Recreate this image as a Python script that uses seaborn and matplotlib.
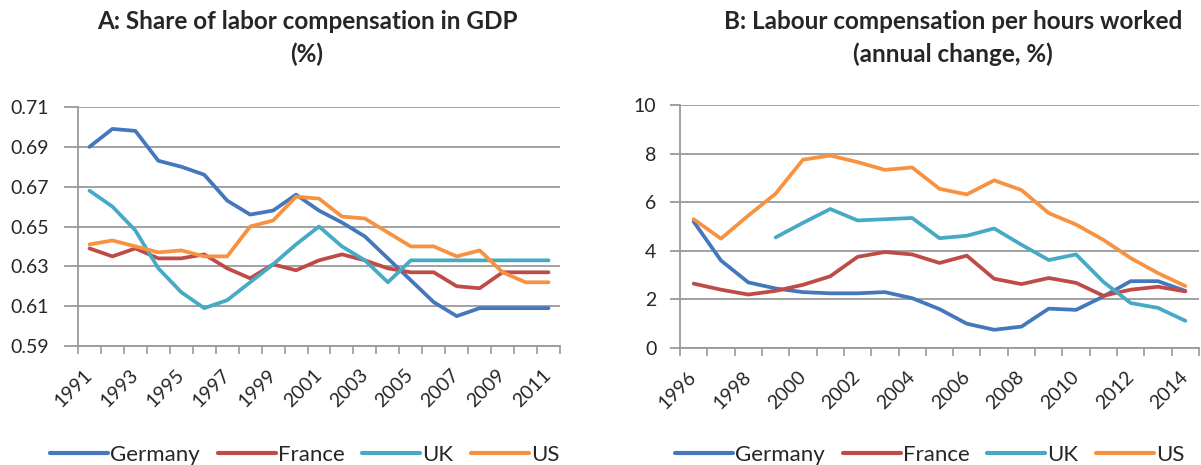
import numpy as np
import pandas as pd
import matplotlib
matplotlib.use("Agg")
import matplotlib.pyplot as plt
import seaborn as sns

# ---- data -------------------------------------------------------------
countries = ["Germany", "France", "UK", "US"]
colors = ["#4477BB", "#BE4B48", "#46AAC5", "#F69240"]

years_a = list(range(1991, 2012))
share_germany = [0.690, 0.699, 0.698, 0.683, 0.680, 0.676, 0.663, 0.656, 0.658, 0.666,
                 0.658, 0.652, 0.645, 0.634, 0.623, 0.612, 0.605, 0.609, 0.609, 0.609, 0.609]
share_france = [0.639, 0.635, 0.639, 0.634, 0.634, 0.636, 0.629, 0.624, 0.631, 0.628,
                0.633, 0.636, 0.633, 0.629, 0.627, 0.627, 0.620, 0.619, 0.627, 0.627, 0.627]
share_uk = [0.668, 0.660, 0.648, 0.629, 0.617, 0.609, 0.613, 0.622, 0.631, 0.641,
            0.650, 0.640, 0.633, 0.622, 0.633, 0.633, 0.633, 0.633, 0.633, 0.633, 0.633]
share_us = [0.641, 0.643, 0.640, 0.637, 0.638, 0.635, 0.635, 0.650, 0.653, 0.665,
            0.664, 0.655, 0.654, 0.647, 0.640, 0.640, 0.635, 0.638, 0.627, 0.622, 0.622]

years_b = list(range(1996, 2015))
comp_germany = [5.2, 3.6, 2.7, 2.45, 2.3, 2.25, 2.25, 2.3, 2.05, 1.6,
                1.0, 0.75, 0.88, 1.62, 1.57, 2.12, 2.75, 2.75, 2.35]
comp_france = [2.65, 2.4, 2.2, 2.35, 2.6, 2.95, 3.75, 3.95, 3.85, 3.5,
               3.8, 2.85, 2.63, 2.88, 2.68, 2.15, 2.4, 2.52, 2.33]
comp_uk = [np.nan, np.nan, np.nan, 4.55, 5.15, 5.72, 5.25, 5.3, 5.35, 4.52,
           4.62, 4.92, 4.25, 3.62, 3.85, 2.72, 1.85, 1.65, 1.12]
comp_us = [5.3, 4.5, 5.45, 6.35, 7.75, 7.92, 7.65, 7.33, 7.43, 6.55,
           6.32, 6.9, 6.5, 5.55, 5.08, 4.45, 3.7, 3.08, 2.55]

title_a = "A: Share of labor compensation in GDP\n(%)"
title_b = "B: Labour compensation per hours worked\n(annual change, %)"

# ---- style ------------------------------------------------------------
sns.set_theme(style="white")
plt.rcParams["font.family"] = ["Lato", "DejaVu Sans"]
text_color = "#262626"
grid_color = "#9a9a9a"

df_a = pd.DataFrame({
    "year": np.tile(years_a, 4),
    "value": share_germany + share_france + share_uk + share_us,
    "country": np.repeat(countries, len(years_a)),
})
df_b = pd.DataFrame({
    "year": np.tile(years_b, 4),
    "value": comp_germany + comp_france + comp_uk + comp_us,
    "country": np.repeat(countries, len(years_b)),
})

W, H = 1201, 465
fig = plt.figure(figsize=(W / 100, H / 100), dpi=100)
ax_a = fig.add_axes([78 / W, 1 - 346 / H, 482 / W, 239 / H])
ax_b = fig.add_axes([680 / W, 1 - 348 / H, 519 / W, 243 / H])


def style_panel(ax, df, years, yticks, yfmt, ypad, ytick_len):
    sns.lineplot(data=df, x="year", y="value", hue="country", hue_order=countries,
                 palette=colors, linewidth=2.7, ax=ax, legend=True, estimator=None,
                 sort=False)
    ax.set_xlim(years[0] - 0.5, years[-1] + 0.5)
    ax.set_ylim(yticks[0], yticks[-1])
    ax.set_yticks(yticks)
    ax.set_yticklabels([yfmt.format(v) for v in yticks])
    ax.set_xticks(years[::2])
    ax.set_xticklabels([str(y) for y in years[::2]], rotation=45, ha="right",
                       va="center", rotation_mode="anchor")
    ax.set_xticks(np.arange(years[0] - 0.5, years[-1] + 1.0, 1.0), minor=True)
    ax.tick_params(axis="x", which="major", length=0, pad=19, labelsize=14,
                   labelcolor=text_color)
    ax.tick_params(axis="x", which="minor", length=6, width=1.2, color=grid_color,
                   direction="out", bottom=True)
    ax.tick_params(axis="y", which="major", length=ytick_len, width=1.3,
                   color=grid_color, pad=ypad, labelsize=14, labelcolor=text_color,
                   left=True)
    ax.set_xlabel("")
    ax.set_ylabel("")
    ax.grid(axis="y", color=grid_color, linewidth=1.3)
    ax.set_axisbelow(True)
    for side in ("top", "right"):
        ax.spines[side].set_visible(False)
    for side in ("left", "bottom"):
        ax.spines[side].set_color(grid_color)
        ax.spines[side].set_linewidth(1.3)


style_panel(ax_a, df_a, years_a, np.round(np.arange(0.59, 0.7101, 0.02), 2),
            "{:.2f}", 11, 10)
style_panel(ax_b, df_b, years_b, list(range(0, 11, 2)), "{:d}", 10, 7)

for ax, cx in ((ax_a, 305 / W), (ax_b, 930 / W)):
    sns.move_legend(ax, "center", bbox_to_anchor=(cx, 1 - 455 / H),
                    bbox_transform=fig.transFigure, ncol=4, title=None,
                    frameon=False, handlelength=2.6, handletextpad=0.1,
                    columnspacing=0.8, fontsize=16)
    leg = ax.get_legend()
    for line in leg.get_lines():
        line.set_linewidth(3.0)
    for t in leg.get_texts():
        t.set_color(text_color)

fig.text(307 / W, 1 - 10 / H, title_a, ha="center", va="top", fontsize=17.5,
         fontweight="bold", color=text_color, linespacing=1.5)
fig.text(953 / W, 1 - 10 / H, title_b, ha="center", va="top", fontsize=17.5,
         fontweight="bold", color=text_color, linespacing=1.5)

fig.savefig("out.png", dpi=100)
